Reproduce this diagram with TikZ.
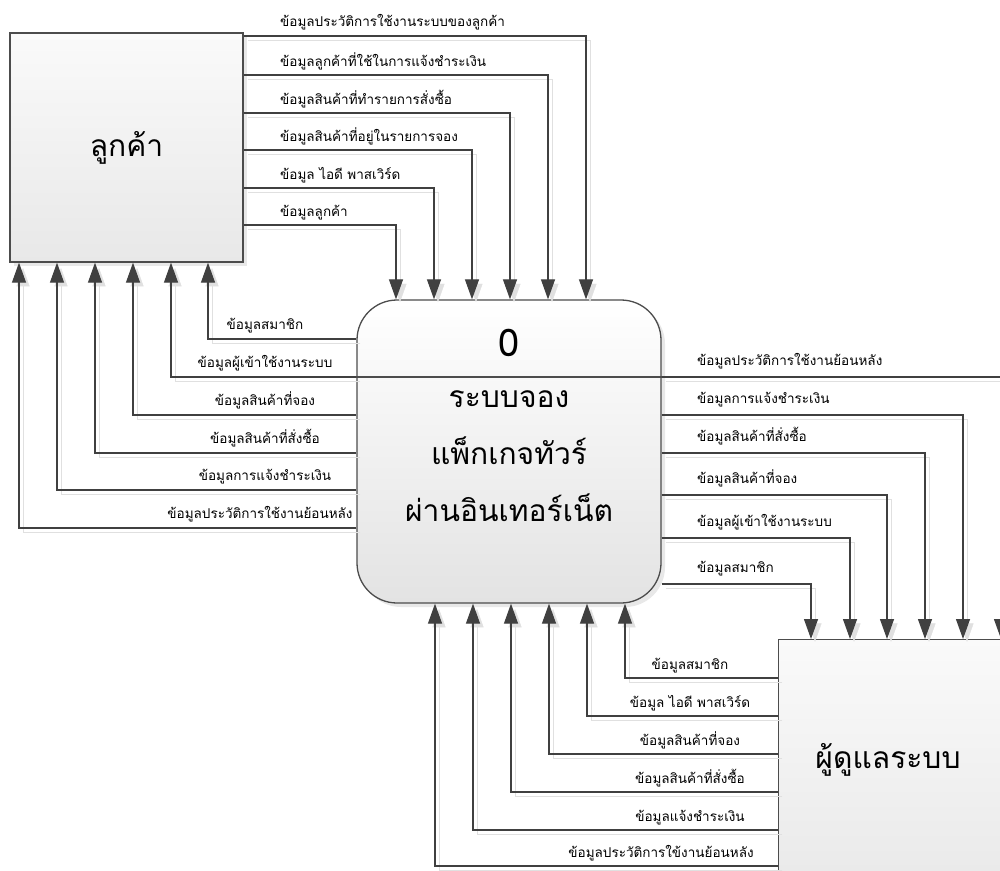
\documentclass[tikz,border=0pt]{standalone}
\usepackage{fontspec}
\setmainfont[Script=Thai]{Loma}
\usetikzlibrary{arrows.meta, positioning, shadows}

\begin{document}
\begin{tikzpicture}[x=1pt, y=-1pt,
    ent/.style={draw=black!70, line width=1.3pt, top color=black!2, bottom color=black!9,
      drop shadow={shadow xshift=4pt, shadow yshift=-4pt, opacity=0.18}},
    procbox/.style={ent, rounded corners=40pt, top color=white, bottom color=black!11},
    flow/.style={draw=black!75, line width=1.2pt, -{Triangle[width=14pt,length=20pt]},
      preaction={draw=black!12, transform canvas={shift={(4pt,-4pt)}}}},
    lbl/.style={font=\fontsize{13.5}{15}\selectfont, inner sep=0pt},
    big/.style={font=\fontsize{30}{57}\selectfont, align=center, inner sep=0pt}]
    % 画布大小
    \useasboundingbox (0,0) rectangle (1000,870);
    \clip (0,0) rectangle (1000,870);

    % 外部实体:客户
    \node[ent, minimum width=233pt, minimum height=229pt, big] (cust) at (126.5,147.5) {ลูกค้า};

    % 处理过程 0
    \node[procbox, minimum width=304pt, minimum height=303pt] (proc) at (509,451.5) {};
    \draw[black!70, line width=1.2pt] (proc.west |- 0,377) -- (proc.east |- 0,377);
    \node[big, font=\fontsize{38}{40}\selectfont] (procid) at (509,343) {0};
    \node[big] (procname) at (509,456) {ระบบจอง\\แพ็กเกจทัวร์\\ผ่านอินเทอร์เน็ต};

    % 外部实体:管理员
    \node[ent, minimum width=262pt, minimum height=261pt, anchor=north west] (adm) at (778,639) {};
    \node[big] (admname) at (888,760) {ผู้ดูแลระบบ};

    % 客户 -> 过程
    \foreach \yy/\xx/\txt [count=\i] in {36/586/ข้อมูลประวัติการใช้งานระบบของลูกค้า,
        75/548/ข้อมูลลูกค้าที่ใช้ในการแจ้งชำระเงิน, 113/510/ข้อมูลสินค้าที่ทำรายการสั่งซื้อ,
        150/472/ข้อมูลสินค้าที่อยู่ในรายการจอง, 188/434/ข้อมูล ไอดี พาสเวิร์ด, 225/396/ข้อมูลลูกค้า} {
        \draw[flow] (cust.east |- 0,\yy) -| (proc.north -| \xx,0);
        \node[lbl, anchor=base west] (top\i) at (280,\yy-9) {\txt};
    }

    % 过程 -> 客户
    \foreach \yy/\xx/\lx/\txt [count=\i] in {339/208/265/ข้อมูลสมาชิก,
        377/171/265/ข้อมูลผู้เข้าใช้งานระบบ, 415/133/265/ข้อมูลสินค้าที่จอง,
        453/95/265/ข้อมูลสินค้าที่สั่งซื้อ, 490/57/265/ข้อมูลการแจ้งชำระเงิน,
        528/19/260/ข้อมูลประวัติการใช้งานย้อนหลัง} {
        \draw[flow] (proc.west |- 0,\yy) -| (cust.south -| \xx,0);
        \node[lbl, anchor=base] (left\i) at (\lx,\yy-10) {\txt};
    }

    % 过程 -> 管理员
    \foreach \yy/\xx/\txt [count=\i] in {377/1001/ข้อมูลประวัติการใช้งานย้อนหลัง,
        415/963/ข้อมูลการแจ้งชำระเงิน, 453/925/ข้อมูลสินค้าที่สั่งซื้อ,
        495/887/ข้อมูลสินค้าที่จอง, 538/850/ข้อมูลผู้เข้าใช้งานระบบ, 584/811/ข้อมูลสมาชิก} {
        \draw[flow] (proc.east |- 0,\yy) -| (adm.north -| \xx,0);
        \node[lbl, anchor=base west] (right\i) at (697,\yy-12) {\txt};
    }

    % 管理员 -> 过程
    \foreach \yy/\xx/\lx/\txt [count=\i] in {678/625/690/ข้อมูลสมาชิก,
        716/587/690/ข้อมูล ไอดี พาสเวิร์ด, 754/549/690/ข้อมูลสินค้าที่จอง,
        792/511/690/ข้อมูลสินค้าที่สั่งซื้อ, 830/473/690/ข้อมูลแจ้งชำระเงิน,
        866/435/661/ข้อมูลประวัติการใข้งานย้อนหลัง} {
        \draw[flow] (adm.west |- 0,\yy) -| (proc.south -| \xx,0);
        \node[lbl, anchor=base] (bot\i) at (\lx,\yy-9) {\txt};
    }
\end{tikzpicture}
\end{document}
